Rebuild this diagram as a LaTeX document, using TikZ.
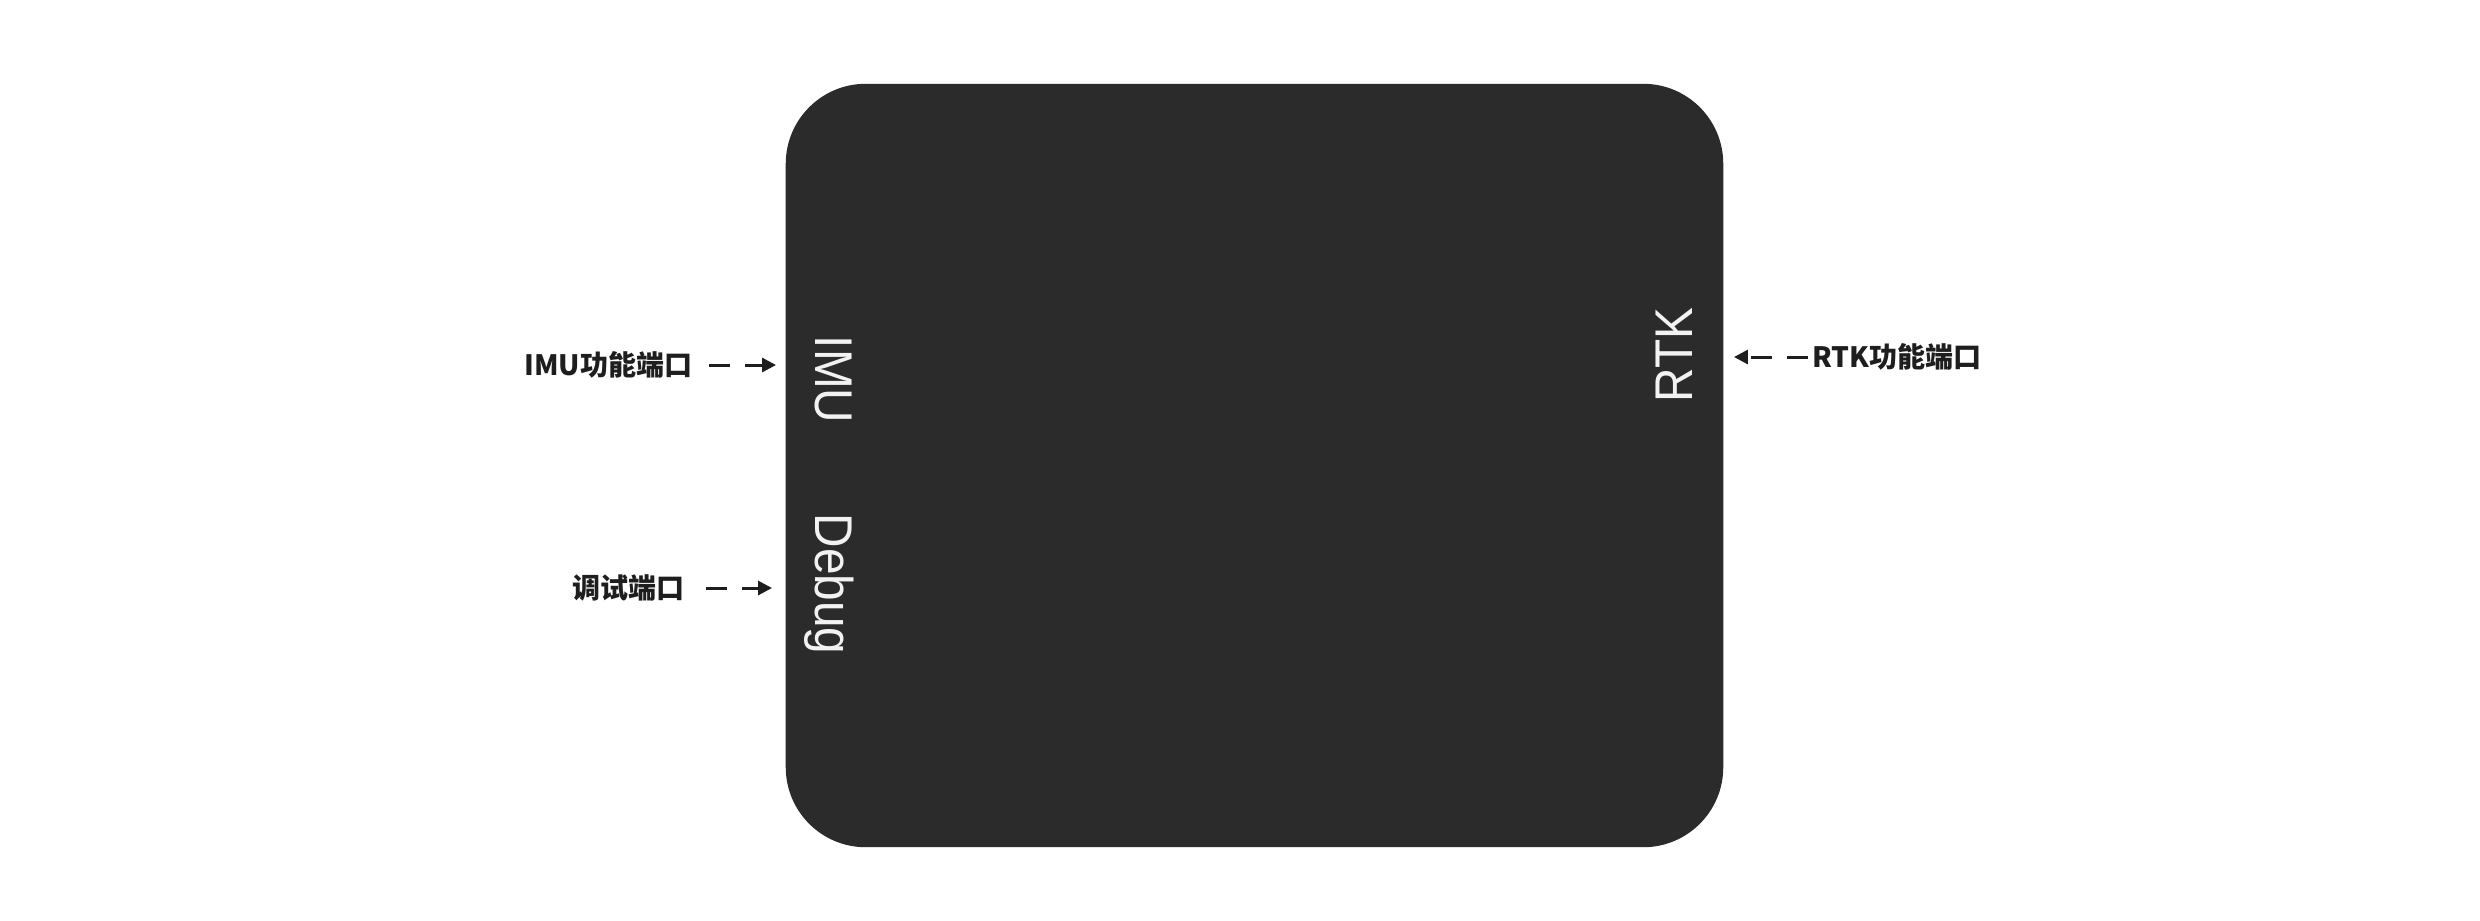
\documentclass[tikz,border=0pt]{standalone}
\usepackage{fontspec}
\usetikzlibrary{arrows.meta}
\newfontfamily\cjk{Noto Sans CJK SC}
\newfontfamily\portfont[FakeStretch=0.9]{Liberation Sans}
\definecolor{boxgray}{HTML}{2B2B2B}
\definecolor{labelink}{HTML}{1E1E1E}
\definecolor{portwhite}{HTML}{F2F2F2}
\tikzset{
  devbox/.style={fill=boxgray, draw=none, rounded corners=0.8cm,
    minimum width=9.37cm, minimum height=7.63cm, inner sep=0},
  portlabel/.style={text=labelink, inner sep=0,
    font=\cjk\bfseries\fontsize{7.97pt}{9pt}\selectfont},
  porttext/.style={text=portwhite, inner sep=0,
    font=\portfont\fontsize{15.1pt}{17pt}\selectfont},
  portarrow/.style={draw=labelink, line width=0.03cm,
    dash pattern=on 0.21cm off 0.15cm,
    -{Triangle[length=0.14cm,width=0.14cm]}}
}
\begin{document}
\begin{tikzpicture}[x=0.01cm,y=-0.01cm]
\useasboundingbox[fill=white] (0,0) rectangle (2480,920);
\node[devbox] (dev) at (1254.5,465.5) {};
% rotated port names
\node[porttext, rotate=-90, anchor=base west] (imu) at (815,335) {IMU};
\node[porttext, rotate=-90, anchor=base west] (dbg) at (815,513) {Debug};
\node[porttext, rotate=90, anchor=base west] (rtk) at (1692,403) {RTK};
% outside labels
\node[portlabel, anchor=east] (imul) at (693,365) {IMU功能端口};
\node[portlabel, anchor=east] (dbgl) at (685,588) {调试端口};
\node[portlabel, anchor=west] (rtkl) at (1812,357) {RTK功能端口};
% connectors
\draw[portarrow, shorten <=0.16cm, shorten >=0.09cm] (imul.east) -- (imul.east -| dev.west);
\draw[portarrow, shorten <=0.21cm, shorten >=0.13cm] (dbgl.east) -- (dbgl.east -| dev.west);
\draw[portarrow, shorten <=0.04cm, shorten >=0.10cm] (rtkl.west) -- (rtkl.west -| dev.east);
\end{tikzpicture}
\end{document}
